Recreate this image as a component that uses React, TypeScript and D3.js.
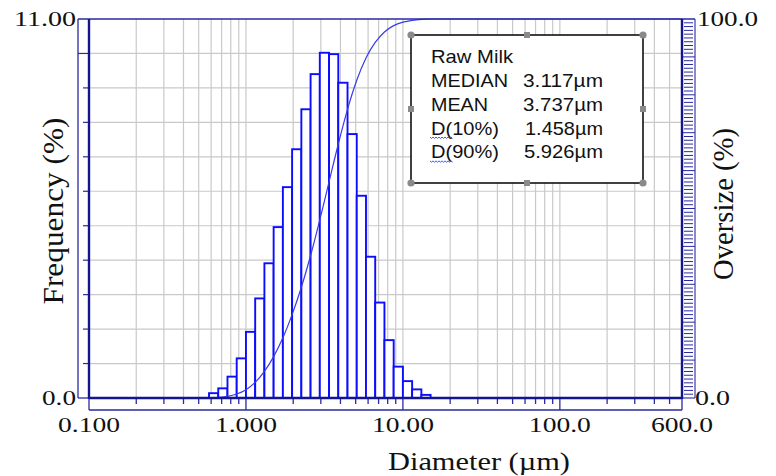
import React from "react";
import * as d3 from "d3";

// size classes (µm) of the instrument, lower/upper edges of each bar
const binEdges = [
  0.5817, 0.6661, 0.7627, 0.8733, 1.0, 1.145, 1.311, 1.501, 1.719, 1.968,
  2.254, 2.581, 2.955, 3.384, 3.875, 4.437, 5.08, 5.817, 6.661, 7.627, 8.733,
  10.0, 11.45, 13.11, 15.01,
];
// frequency (%) per size class
const frequency = [
  0.14, 0.28, 0.62, 1.15, 1.92, 2.89, 3.91, 4.96, 6.12, 7.22, 8.38, 9.4,
  10.02, 9.98, 9.15, 7.66, 5.87, 4.1, 2.77, 1.68, 0.91, 0.49, 0.25, 0.09,
];

const xTickValues = [0.1, 1, 10, 100, 600];
const xTickLabels = ["0.100", "1.000", "10.00", "100.0", "600.0"];
const xMajorTicks = [1, 10, 100];

const statLabels = ["MEDIAN", "MEAN", "D(10%)", "D(90%)"];
const statValues = ["3.117µm", "3.737µm", "1.458µm", "5.926µm"];
const sampleName = "Raw Milk";

const W = 776;
const H = 476;

const App = () => {
  const svgRef = React.useRef<SVGSVGElement>(null);

  React.useEffect(() => {
    const svg = d3.select(svgRef.current);
    svg.selectAll("*").remove();

    const left = 89;
    const right = 682;
    const top = 19;
    const bottom = 398;

    const x = d3.scaleLog().domain([0.1, 600]).range([left, right]);
    const y = d3.scaleLinear().domain([0, 11]).range([bottom, top]);
    const y2 = d3.scaleLinear().domain([0, 100]).range([bottom, top]);

    const navy = "#2a2aa0";
    const serif = "'Liberation Serif', 'Times New Roman', serif";
    const sans = "'Liberation Sans', Arial, sans-serif";

    svg.append("rect").attr("width", W).attr("height", H).attr("fill", "white");

    // grid
    const grid = svg.append("g").attr("stroke", "#c9c9c9").attr("stroke-width", 1.2);
    grid
      .selectAll("line.v")
      .data(x.ticks().filter((d) => d > 0.1 && d < 600))
      .enter()
      .append("line")
      .attr("x1", (d) => x(d))
      .attr("x2", (d) => x(d))
      .attr("y1", top)
      .attr("y2", bottom);
    grid
      .selectAll("line.h")
      .data(d3.range(1, 11))
      .enter()
      .append("line")
      .attr("x1", left)
      .attr("x2", right)
      .attr("y1", (d) => y(d))
      .attr("y2", (d) => y(d));

    // bars
    svg
      .append("g")
      .selectAll("rect")
      .data(frequency)
      .enter()
      .append("rect")
      .attr("x", (d, i) => x(binEdges[i]))
      .attr("width", (d, i) => x(binEdges[i + 1]) - x(binEdges[i]))
      .attr("y", (d) => y(d))
      .attr("height", (d) => y(0) - y(d))
      .attr("fill", "white")
      .attr("stroke", "#0c0cff")
      .attr("stroke-width", 1.9);

    // cumulative curve
    const cum = [0, ...Array.from(d3.cumsum(frequency))];
    const total = cum[cum.length - 1];
    const pts: [number, number][] = [[0.1, 0]];
    binEdges.forEach((e, i) => pts.push([e, (cum[i] / total) * 100]));
    pts.push([600, 100]);
    svg
      .append("path")
      .datum(pts)
      .attr("fill", "none")
      .attr("stroke", "#3a3ae8")
      .attr("stroke-width", 1.2)
      .attr(
        "d",
        d3
          .line<[number, number]>()
          .x((d) => x(d[0]))
          .y((d) => y2(d[1]))
          .curve(d3.curveMonotoneX)
      );

    // frame
    const frame = svg.append("g").attr("stroke", navy).attr("fill", "none");
    frame.append("line").attr("x1", 78).attr("x2", 695).attr("y1", top).attr("y2", top).attr("stroke-width", 1.3);
    frame.append("line").attr("x1", 78).attr("x2", 78).attr("y1", top).attr("y2", bottom).attr("stroke-width", 1.3);
    frame.append("line").attr("x1", 78).attr("x2", left).attr("y1", bottom).attr("y2", bottom).attr("stroke-width", 1.3);
    frame.append("line").attr("x1", left).attr("x2", left).attr("y1", bottom).attr("y2", 410).attr("stroke-width", 1.3);
    frame.append("line").attr("x1", left).attr("x2", right).attr("y1", 410).attr("y2", 410).attr("stroke-width", 1.3);
    frame.append("line").attr("x1", right).attr("x2", right).attr("y1", bottom).attr("y2", 410).attr("stroke-width", 1.3);
    frame.append("line").attr("x1", 695).attr("x2", 695).attr("y1", top).attr("y2", bottom).attr("stroke-width", 1.1);
    frame.append("line").attr("x1", right).attr("x2", 695).attr("y1", bottom).attr("y2", bottom).attr("stroke-width", 1.1);

    // ticks
    frame
      .selectAll("line.yt")
      .data(d3.range(1, 11))
      .enter()
      .append("line")
      .attr("x1", (d) => (d === 10 ? 78 : 83))
      .attr("x2", left)
      .attr("y1", (d) => y(d))
      .attr("y2", (d) => y(d))
      .attr("stroke-width", 1.2);
    frame
      .selectAll("line.xt")
      .data(x.ticks().filter((d) => d > 0.1 && d < 600))
      .enter()
      .append("line")
      .attr("x1", (d) => x(d))
      .attr("x2", (d) => x(d))
      .attr("y1", bottom)
      .attr("y2", (d) => (xMajorTicks.includes(d) ? 410 : 404))
      .attr("stroke-width", 1.3);
    frame
      .selectAll("line.y2t")
      .data(d3.range(1, 100))
      .enter()
      .append("line")
      .attr("x1", (d) => (d % 10 === 0 ? right : 684))
      .attr("x2", (d) => (d % 10 === 0 ? 695 : 693))
      .attr("y1", (d) => y2(d))
      .attr("y2", (d) => y2(d))
      .attr("stroke-width", 1);

    // main axis lines
    const axes = svg.append("g").attr("stroke", "#14148f").attr("stroke-width", 2.4);
    axes.append("line").attr("x1", left).attr("x2", left).attr("y1", top).attr("y2", bottom + 1);
    axes.append("line").attr("x1", left).attr("x2", right).attr("y1", bottom).attr("y2", bottom);
    axes.append("line").attr("x1", right).attr("x2", right).attr("y1", top).attr("y2", bottom + 1);

    const text = (
      px: number,
      py: number,
      s: string,
      size: number,
      family: string,
      anchor: string,
      len?: number,
      transform?: string
    ) => {
      const t = svg
        .append("text")
        .attr("x", px)
        .attr("y", py)
        .attr("font-size", size)
        .attr("font-family", family)
        .attr("text-anchor", anchor)
        .attr("fill", "#111")
        .text(s);
      if (len) t.attr("textLength", len).attr("lengthAdjust", "spacingAndGlyphs");
      if (transform) t.attr("transform", transform);
      return t;
    };

    // tick labels
    xTickValues.forEach((v, i) => text(x(v), 432, xTickLabels[i], 22, serif, "middle", 62));
    text(76, 26, "11.00", 21, serif, "end", 62);
    text(76, 405, "0.0", 20, serif, "end", 34);
    text(697, 26, "100.0", 21, serif, "start", 61);
    text(695, 405, "0.0", 20, serif, "start", 35);

    // axis titles
    text(388, 470, "Diameter (µm)", 25, serif, "start", 182);
    text(0, 0, "Frequency (%)", 30, serif, "middle", 187, "translate(63,211) rotate(-90)");
    text(0, 0, "Oversize (%)", 30, serif, "middle", 152, "translate(733,204) rotate(-90)");

    // stats box
    const bx0 = 411;
    const bx1 = 643;
    const by0 = 35;
    const by1 = 183;
    svg
      .append("rect")
      .attr("x", bx0)
      .attr("y", by0)
      .attr("width", bx1 - bx0)
      .attr("height", by1 - by0)
      .attr("fill", "white")
      .attr("stroke", "#111")
      .attr("stroke-width", 1.6);
    const handleColor = "#8a8a8a";
    [
      [bx0, by0],
      [bx1, by0],
      [bx0, by1],
      [bx1, by1],
    ].forEach(([cx, cy]) =>
      svg.append("circle").attr("cx", cx).attr("cy", cy).attr("r", 3.6).attr("fill", handleColor)
    );
    [
      [(bx0 + bx1) / 2, by0],
      [(bx0 + bx1) / 2, by1],
      [bx0, (by0 + by1) / 2],
      [bx1, (by0 + by1) / 2],
    ].forEach(([cx, cy]) =>
      svg
        .append("rect")
        .attr("x", cx - 3)
        .attr("y", cy - 3)
        .attr("width", 6)
        .attr("height", 6)
        .attr("fill", handleColor)
    );

    text(431, 63, sampleName, 18.5, sans, "start", 82);
    const labelLens = [77, 57, 68, 68];
    const valueX = [523, 523, 525, 524];
    const valueLens = [80, 80, 78, 79];
    statLabels.forEach((s, i) => {
      const by = 87 + i * 23.8;
      text(431, by, s, 18.5, sans, "start", labelLens[i]);
      text(valueX[i], by, statValues[i], 18.5, sans, "start", valueLens[i]);
      if (s.startsWith("D(")) {
        // spell-check squiggle under "D"
        const wy = by + 2.5;
        let d = `M430,${wy}`;
        for (let k = 0; k < 15; k++) d += ` l1.5,${k % 2 === 0 ? 1.3 : -1.3}`;
        svg.append("path").attr("d", d).attr("fill", "none").attr("stroke", "#3b5bff").attr("stroke-width", 1);
      }
    });
  }, []);

  return (
    <svg
      ref={svgRef}
      width={W}
      height={H}
      style={{ position: "absolute", left: 0, top: 0 }}
    ></svg>
  );
};

export default App;
